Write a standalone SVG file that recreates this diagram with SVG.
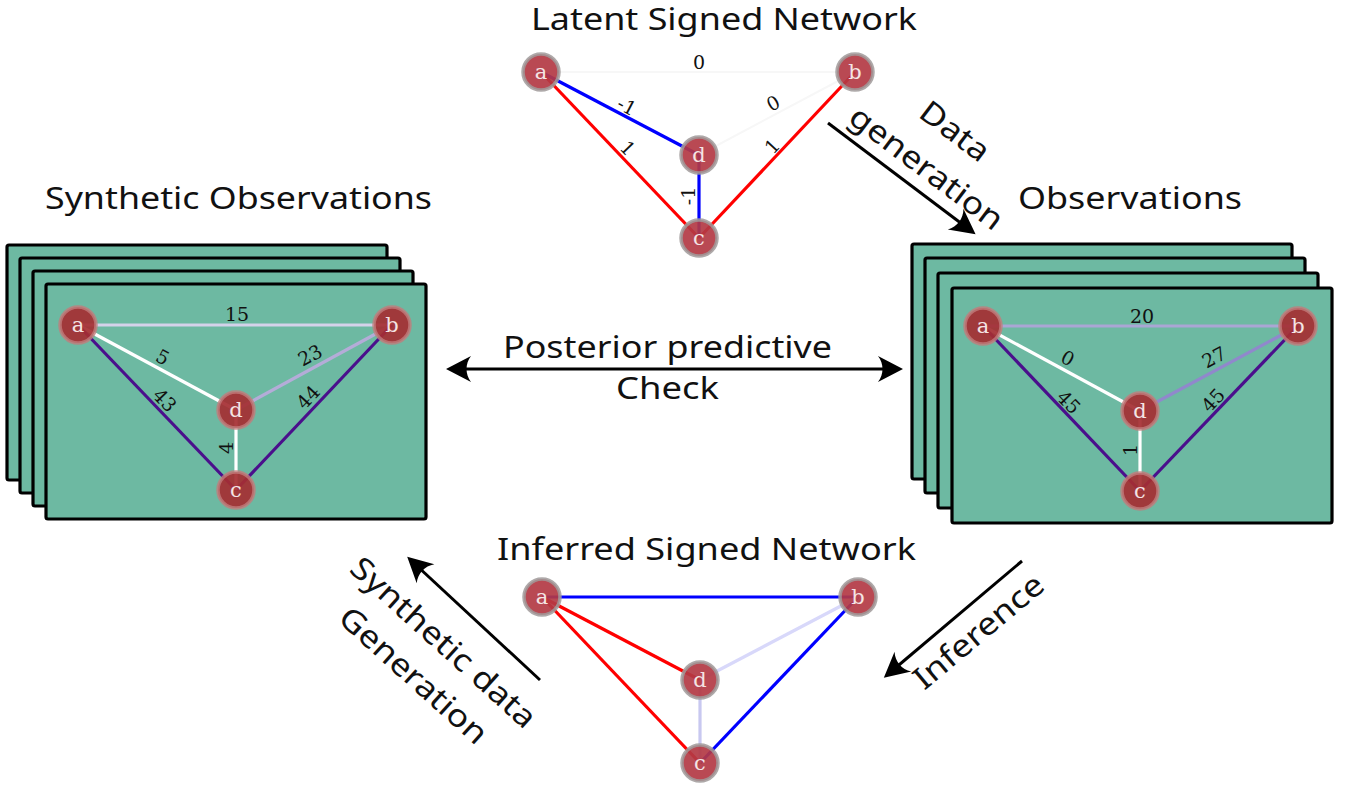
<svg xmlns="http://www.w3.org/2000/svg" width="1353" height="787" viewBox="0 0 1353 787">
  <defs>
    <marker id="head" markerUnits="userSpaceOnUse" markerWidth="40" markerHeight="40" refX="0" refY="0" orient="auto-start-reverse" overflow="visible" viewBox="-20 -20 40 40">
      <path d="M12,0 L-13,-13 C-7,-5 -7,5 -13,13 Z" fill="#000"/>
    </marker>
    <style>
      .title { font-family: "Noto Sans", "Open Sans", sans-serif; font-size: 30px; fill: #111; }
      .rot { font-family: "Noto Sans", "Open Sans", sans-serif; font-size: 31px; fill: #111; text-anchor: middle; }
      .arrow { stroke: #000; stroke-width: 3; fill: none; marker-end: url(#head); }
      .panel { fill: #6db9a2; stroke: #000; stroke-width: 3.2; }
      .node { stroke: #a09a9a; stroke-opacity: 0.85; stroke-width: 3.5; fill: #b33a44; fill-opacity: 0.92; }
      .pnode { stroke: #c27c7c; stroke-opacity: 0.8; stroke-width: 3.5; fill: #a52e32; fill-opacity: 0.92; }
      .nlabel { font-family: "DejaVu Serif", "Liberation Serif", serif; font-size: 21px; fill: #f4e4e4; text-anchor: middle; }
      .elabel { font-family: "DejaVu Serif", "Liberation Serif", serif; font-size: 19px; fill: #111; text-anchor: middle; }
      .e { stroke-width: 3.2; fill: none; }
      .red { stroke: #ff0000; }
      .blue { stroke: #0000ff; }
      .ghost { stroke: #f7f7f7; stroke-width: 2; }
      .white { stroke: #ffffff; }
      .indigo { stroke: #4a0f8c; }
    </style>
  </defs>
  <rect width="1353" height="787" fill="#fff"/>

  <!-- headings -->
  <g id="titles">
    <text class="title" x="531" y="30" textLength="386" lengthAdjust="spacingAndGlyphs">Latent Signed Network</text>
    <text class="title" x="45" y="209" textLength="387" lengthAdjust="spacingAndGlyphs">Synthetic Observations</text>
    <text class="title" x="1018" y="209" textLength="224" lengthAdjust="spacingAndGlyphs">Observations</text>
    <text class="title" x="497" y="560" textLength="419" lengthAdjust="spacingAndGlyphs">Inferred Signed Network</text>
  </g>

  <!-- process arrows between the four stages -->
  <g id="connectors">
    <line class="arrow" x1="828" y1="123" x2="966" y2="227"/>
    <line class="arrow" x1="540" y1="680" x2="416" y2="565"/>
    <line class="arrow" x1="1022" y1="561" x2="893" y2="670"/>
    <line class="arrow" x1="458" y1="369" x2="891" y2="369" marker-start="url(#head)"/>
  </g>

  <g id="label-data-generation">
    <text class="rot" transform="translate(955,131) rotate(37) scale(1.15,1)" y="11">Data</text>
    <text class="rot" transform="translate(925,170) rotate(37) scale(1.15,1)" y="8">generation</text>
  </g>
  <g id="label-posterior-check">
    <text class="title" x="503" y="358" textLength="329" lengthAdjust="spacingAndGlyphs">Posterior predictive</text>
    <text class="title" x="616" y="399" textLength="103" lengthAdjust="spacingAndGlyphs">Check</text>
  </g>
  <g id="label-synthetic-generation">
    <text class="rot" transform="translate(443,643) rotate(42) scale(1.15,1)" y="10">Synthetic data</text>
    <text class="rot" transform="translate(413,676) rotate(42) scale(1.15,1)" y="10">Generation</text>
  </g>
  <g id="label-inference">
    <text class="rot" transform="translate(979,632) rotate(-40) scale(1.15,1)" y="10">Inference</text>
  </g>

  <!-- latent network -->
  <g id="latent-network">
    <g id="latent-edges">
      <line class="e ghost" x1="541" y1="72" x2="855" y2="72"/>
      <line class="e ghost" x1="699" y1="155" x2="855" y2="72"/>
      <line class="e blue" x1="541" y1="72" x2="699" y2="155"/>
      <line class="e red" x1="541" y1="72" x2="699" y2="238"/>
      <line class="e blue" x1="699" y1="155" x2="699" y2="238"/>
      <line class="e red" x1="855" y1="72" x2="699" y2="238"/>
    </g>
    <g id="latent-edge-labels">
      <text class="elabel" transform="translate(699,62)" y="7">0</text>
      <text class="elabel" transform="translate(627,106) rotate(28)" y="7">-1</text>
      <text class="elabel" transform="translate(773,103) rotate(-28)" y="7">0</text>
      <text class="elabel" transform="translate(628,148) rotate(46)" y="7">1</text>
      <text class="elabel" transform="translate(772,146) rotate(-47)" y="7">1</text>
      <text class="elabel" transform="translate(688,196) rotate(-90)" y="7">-1</text>
    </g>
    <g id="latent-a"><circle class="node" cx="541" cy="72" r="18"/><text class="nlabel" x="541" y="79">a</text></g>
    <g id="latent-b"><circle class="node" cx="855" cy="72" r="18"/><text class="nlabel" x="855" y="79">b</text></g>
    <g id="latent-d"><circle class="node" cx="699" cy="155" r="18"/><text class="nlabel" x="699" y="162">d</text></g>
    <g id="latent-c"><circle class="node" cx="699" cy="238" r="18"/><text class="nlabel" x="699" y="245">c</text></g>
  </g>

  <!-- synthetic observations stack -->
  <g id="synthetic-observations">
    <rect class="panel" x="7" y="245" width="380" height="235" rx="2"/>
    <rect class="panel" x="20" y="258" width="380" height="235" rx="2"/>
    <rect class="panel" x="33" y="271" width="380" height="235" rx="2"/>
    <rect class="panel" x="46" y="284" width="380" height="235" rx="2"/>
    <g id="synthetic-edges">
      <line class="e" stroke="#d4d2ea" x1="78" y1="325" x2="392" y2="325"/>
      <line class="e white" x1="78" y1="325" x2="236" y2="410"/>
      <line class="e" stroke="#b4acd8" x1="392" y1="325" x2="236" y2="410"/>
      <line class="e indigo" x1="78" y1="325" x2="236" y2="490"/>
      <line class="e indigo" x1="392" y1="325" x2="236" y2="490"/>
      <line class="e white" x1="236" y1="410" x2="236" y2="490"/>
    </g>
    <g id="synthetic-edge-labels">
      <text class="elabel" transform="translate(237,314)" y="7">15</text>
      <text class="elabel" transform="translate(163,357) rotate(28)" y="7">5</text>
      <text class="elabel" transform="translate(310,355) rotate(-28)" y="7">23</text>
      <text class="elabel" transform="translate(165,400) rotate(46)" y="7">43</text>
      <text class="elabel" transform="translate(308,397) rotate(-47)" y="7">44</text>
      <text class="elabel" transform="translate(226,448) rotate(-90)" y="7">4</text>
    </g>
    <g id="synthetic-a"><circle class="pnode" cx="78" cy="325" r="18"/><text class="nlabel" x="78" y="332">a</text></g>
    <g id="synthetic-b"><circle class="pnode" cx="392" cy="325" r="18"/><text class="nlabel" x="392" y="332">b</text></g>
    <g id="synthetic-d"><circle class="pnode" cx="236" cy="410" r="18"/><text class="nlabel" x="236" y="417">d</text></g>
    <g id="synthetic-c"><circle class="pnode" cx="236" cy="490" r="18"/><text class="nlabel" x="236" y="497">c</text></g>
  </g>

  <!-- observations stack -->
  <g id="observations">
    <rect class="panel" x="912" y="244" width="380" height="235" rx="2"/>
    <rect class="panel" x="925" y="258" width="380" height="235" rx="2"/>
    <rect class="panel" x="938" y="273" width="380" height="235" rx="2"/>
    <rect class="panel" x="952" y="288" width="380" height="235" rx="2"/>
    <g id="observed-edges">
      <line class="e" stroke="#aaa6d4" x1="983" y1="326" x2="1298" y2="326"/>
      <line class="e white" x1="983" y1="326" x2="1140" y2="411"/>
      <line class="e" stroke="#9088cc" x1="1298" y1="326" x2="1140" y2="411"/>
      <line class="e indigo" x1="983" y1="326" x2="1140" y2="491"/>
      <line class="e indigo" x1="1298" y1="326" x2="1140" y2="491"/>
      <line class="e white" x1="1140" y1="411" x2="1140" y2="491"/>
    </g>
    <g id="observed-edge-labels">
      <text class="elabel" transform="translate(1142,316)" y="7">20</text>
      <text class="elabel" transform="translate(1068,358) rotate(28)" y="7">0</text>
      <text class="elabel" transform="translate(1214,357) rotate(-28)" y="7">27</text>
      <text class="elabel" transform="translate(1069,402) rotate(46)" y="7">45</text>
      <text class="elabel" transform="translate(1213,400) rotate(-47)" y="7">45</text>
      <text class="elabel" transform="translate(1130,450) rotate(-90)" y="7">1</text>
    </g>
    <g id="observed-a"><circle class="pnode" cx="983" cy="326" r="18"/><text class="nlabel" x="983" y="333">a</text></g>
    <g id="observed-b"><circle class="pnode" cx="1298" cy="326" r="18"/><text class="nlabel" x="1298" y="333">b</text></g>
    <g id="observed-d"><circle class="pnode" cx="1140" cy="411" r="18"/><text class="nlabel" x="1140" y="418">d</text></g>
    <g id="observed-c"><circle class="pnode" cx="1140" cy="491" r="18"/><text class="nlabel" x="1140" y="498">c</text></g>
  </g>

  <!-- inferred network -->
  <g id="inferred-network">
    <g id="inferred-edges">
      <line class="e blue" x1="542" y1="597" x2="858" y2="597"/>
      <line class="e red" x1="542" y1="597" x2="700" y2="680"/>
      <line class="e red" x1="542" y1="597" x2="700" y2="763"/>
      <line class="e blue" x1="858" y1="597" x2="700" y2="763"/>
      <line class="e" stroke="#d8d8fa" x1="858" y1="597" x2="700" y2="680"/>
      <line class="e" stroke="#c8c8f0" x1="700" y1="680" x2="700" y2="763"/>
    </g>
    <g id="inferred-a"><circle class="node" cx="542" cy="597" r="18"/><text class="nlabel" x="542" y="604">a</text></g>
    <g id="inferred-b"><circle class="node" cx="858" cy="597" r="18"/><text class="nlabel" x="858" y="604">b</text></g>
    <g id="inferred-d"><circle class="node" cx="700" cy="680" r="18"/><text class="nlabel" x="700" y="687">d</text></g>
    <g id="inferred-c"><circle class="node" cx="700" cy="763" r="18"/><text class="nlabel" x="700" y="770">c</text></g>
  </g>
</svg>
